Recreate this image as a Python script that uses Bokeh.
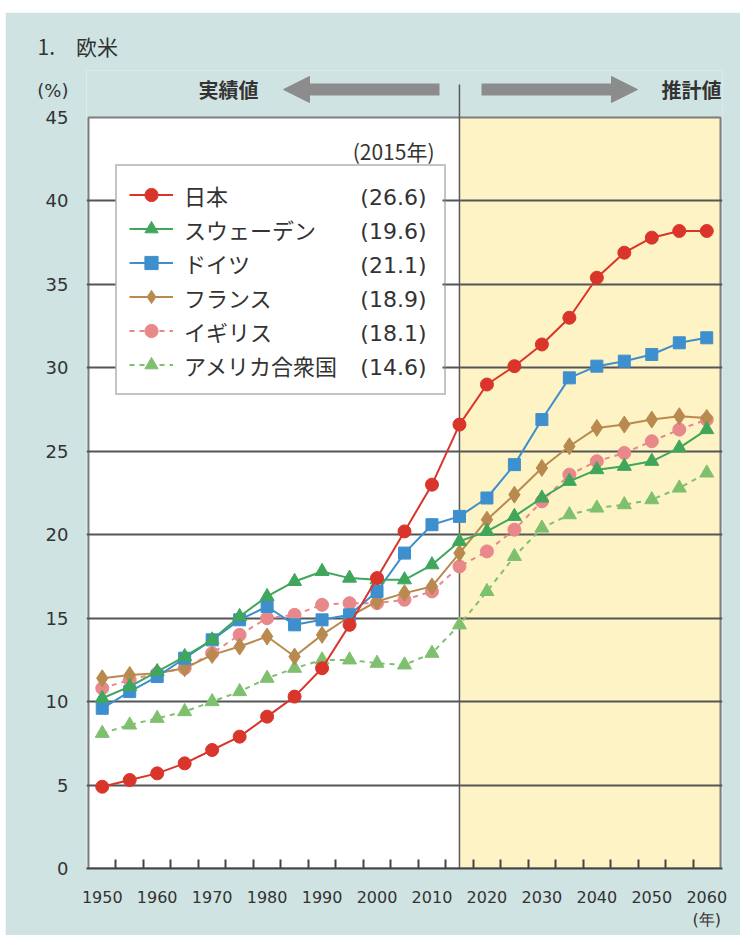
from bokeh.plotting import figure
from bokeh.models import (FixedTicker, Legend, LegendItem, Label, Arrow, NormalHead,
                          Range1d, Spacer)
from bokeh.layouts import column, row
from bokeh.core.properties import value
from bokeh.embed import file_html
from bokeh.resources import INLINE

# ---------------- data ----------------
years = list(range(1950, 2061, 5))
split_year = 2015  # 実績値 / 推計値 boundary

series_names = ["日本", "スウェーデン", "ドイツ", "フランス", "イギリス", "アメリカ合衆国"]

japan = [4.9, 5.3, 5.7, 6.3, 7.1, 7.9, 9.1, 10.3, 12.0, 14.6, 17.4, 20.2, 23.0,
         26.6, 29.0, 30.1, 31.4, 33.0, 35.4, 36.9, 37.8, 38.2, 38.2]
sweden = [10.2, 10.9, 11.8, 12.7, 13.7, 15.1, 16.3, 17.2, 17.8, 17.4, 17.3, 17.3, 18.2,
          19.6, 20.2, 21.1, 22.2, 23.2, 23.9, 24.1, 24.4, 25.2, 26.3]
germany = [9.6, 10.6, 11.5, 12.6, 13.7, 14.9, 15.7, 14.6, 14.9, 15.2, 16.6, 18.9, 20.6,
           21.1, 22.2, 24.2, 26.9, 29.4, 30.1, 30.4, 30.8, 31.5, 31.8]
france = [11.4, 11.6, 11.7, 12.0, 12.8, 13.3, 13.9, 12.7, 14.0, 15.1, 16.0, 16.5, 16.9,
          18.9, 20.9, 22.4, 24.0, 25.3, 26.4, 26.6, 26.9, 27.1, 27.0]
uk = [10.8, 11.3, 11.7, 12.0, 12.9, 14.0, 15.0, 15.2, 15.8, 15.9, 15.9, 16.1, 16.6,
      18.1, 19.0, 20.3, 22.0, 23.6, 24.4, 24.9, 25.6, 26.3, 26.9]
us = [8.1, 8.6, 9.0, 9.4, 10.0, 10.6, 11.4, 12.0, 12.5, 12.5, 12.3, 12.2, 12.9,
      14.6, 16.6, 18.7, 20.4, 21.2, 21.6, 21.8, 22.1, 22.8, 23.7]

y_ticks = list(range(0, 46, 5))
x_label_years = years[::2]
unit_y, unit_x = "(%)", "(年)"

# ---------------- styling ----------------
TEAL = "#cfe4e2"
YELLOW = "#fdf3c4"
GRID = "#555555"
TXT = "#333333"
ARROW = "#8c8c8c"

styles = [
    # (values, color, marker, size, dash)
    (japan, "#d9352b", "circle", 13, "solid"),
    (sweden, "#3fa65c", "triangle", 14, "solid"),
    (germany, "#3e8fcd", "square", 12, "solid"),
    (france, "#b98a4f", "diamond", 17, "solid"),
    (uk, "#e8888a", "circle", 13, "5 5"),
    (us, "#7fc06e", "triangle", 14, "5 5"),
]

XA, XB = 1947.5, 2062.5      # data extent of the drawn plot box
YA, YB = 0, 45
# plot box position in the 740x935 page
BL, BR, BT, BB = 88, 720, 117, 868
PAGE_LEFT, PAGE_TOP = 5, 12
FRAME_L, FRAME_R, FRAME_T = 86, 722, 70   # frame a bit larger than the plot box


def rx(x):
    return XA + (x - BL) * (XB - XA) / (BR - BL)


def ry(y):
    return YA + (BB - y) * (YB - YA) / (BB - BT)


W = 740 - PAGE_LEFT
H = 935 - PAGE_TOP

p = figure(width=W, height=H, x_range=Range1d(rx(FRAME_L), rx(FRAME_R)),
           y_range=Range1d(YA, ry(FRAME_T)),
           output_backend="svg", toolbar_location=None, title="1.\u3000欧米",
           min_border_left=FRAME_L - PAGE_LEFT, min_border_right=740 - FRAME_R,
           min_border_top=FRAME_T - PAGE_TOP, min_border_bottom=935 - BB)
p.background_fill_color = TEAL
p.border_fill_color = TEAL
p.outline_line_color = None

p.title.align = "left"
p.title.offset = 37 - FRAME_L
p.title.standoff = 19
p.title.text_font = "Noto Sans CJK JP"
p.title.text_font_size = "21px"
p.title.text_font_style = "normal"
p.title.text_color = TXT

# plot box backgrounds: actual (white) and projection (yellow)
p.quad(left=[XA], right=[split_year], bottom=[YA], top=[YB],
       fill_color="white", line_color=None, level="image")
p.quad(left=[split_year], right=[XB], bottom=[YA], top=[YB],
       fill_color=YELLOW, line_color=None, level="image")

# grid
p.xgrid.visible = False
p.ygrid.ticker = FixedTicker(ticks=y_ticks[1:-1])
p.ygrid.grid_line_color = GRID
p.ygrid.grid_line_width = 2

# plot box border
p.quad(left=[XA], right=[XB], bottom=[YA], top=[YB], fill_color=None,
       line_color="#7d7d7d", line_width=2, level="underlay")

# boundary line (extends above the box up to the arrows)
p.segment(x0=[split_year], y0=[YA], x1=[split_year], y1=[ry(84)],
          line_color="#5a5a5a", line_width=1.5, level="underlay")

# y axis
unit_tick = 46.6
p.yaxis.ticker = FixedTicker(ticks=y_ticks + [unit_tick])
p.yaxis.major_label_overrides = {unit_tick: unit_y}
p.yaxis.axis_line_color = None
p.yaxis.major_tick_line_color = None
p.yaxis.minor_tick_line_color = None
p.yaxis.major_tick_in = 0
p.yaxis.major_tick_out = 0
p.yaxis.major_label_standoff = 18
p.yaxis.major_label_text_font = "DejaVu Sans"
p.yaxis.major_label_text_font_size = "18px"
p.yaxis.major_label_text_color = TXT

# x axis
p.xaxis.ticker = FixedTicker(ticks=x_label_years,
                             minor_ticks=[y + 2.5 for y in years[:-1]])
p.xaxis.major_label_overrides = {years[-1]: f"{years[-1]}\n{unit_x}"}
p.xaxis.axis_line_color = "#444444"
p.xaxis.axis_line_width = 2
p.xaxis.major_tick_line_color = None
p.xaxis.major_tick_in = 0
p.xaxis.major_tick_out = 0
p.xaxis.minor_tick_line_color = "#444444"
p.xaxis.minor_tick_line_width = 2
p.xaxis.minor_tick_in = 9
p.xaxis.minor_tick_out = 0
p.xaxis.major_label_standoff = 19
p.xaxis.major_label_text_font = "DejaVu Sans"
p.xaxis.major_label_text_font_size = "16px"
p.xaxis.major_label_text_color = TXT

# series (draw Japan last so it sits on top)
renderers = {}
for name, (vals, col, mk, sz, dash) in reversed(list(zip(series_names, styles))):
    lr = p.line(years, vals, line_color=col, line_width=2, line_dash=dash)
    sr = p.scatter(years, vals, marker=mk, size=sz, fill_color=col, line_color=col)
    renderers[name] = (lr, sr)

# legend geometry (page pixels)
PAD, GH, SP = 12, 33, 1
GW, STANDOFF, LW = 44, 11, 248
LEG_L, LEG_B = 115, 395
LEG_R = LEG_L + 2 * PAD + GW + STANDOFF + LW
legend_top = LEG_B - (2 * PAD + len(series_names) * GH + (len(series_names) - 1) * SP)

# white legend box drawn as a glyph so that the 2015 values can sit on it
p.quad(left=[rx(LEG_L)], right=[rx(LEG_R)], bottom=[ry(LEG_B)], top=[ry(legend_top)],
       fill_color="white", line_color=None)

idx2015 = years.index(split_year)
val_y = [ry(legend_top + PAD + GH / 2 + i * (GH + SP)) for i in range(len(styles))]
val_txt = [f"({s[0][idx2015]:.1f})" for s in styles]
p.text(x=[rx(426)] * len(styles), y=val_y, text=val_txt, text_align="right",
       text_baseline="middle", text_font=value("DejaVu Sans"), text_font_size="22px",
       text_color=TXT)

legend = Legend(items=[LegendItem(label=n, renderers=list(renderers[n])) for n in series_names],
                location=(LEG_L - FRAME_L, BB - LEG_B), orientation="vertical",
                padding=PAD, spacing=SP, glyph_width=GW, glyph_height=GH,
                label_height=22, label_width=LW, label_standoff=STANDOFF, margin=0,
                label_text_font="Noto Sans CJK JP", label_text_font_size="22px",
                label_text_color=TXT, border_line_color="#8a8a8a", border_line_width=2,
                background_fill_alpha=0.0)
p.add_layout(legend, "center")

p.add_layout(Label(x=rx(434), y=ry(150), text=f"({split_year}年)", text_align="right",
                   text_baseline="middle", text_font="Noto Sans CJK JP",
                   text_font_size="21px", text_color=TXT))

# header texts and arrows
p.add_layout(Label(x=rx(228), y=ry(89), text="実績値", text_align="center",
                   text_baseline="middle", text_font="Noto Sans CJK JP",
                   text_font_size="20px", text_font_style="bold", text_color=TXT))
p.add_layout(Label(x=rx(691), y=ry(89), text="推計値", text_align="center",
                   text_baseline="middle", text_font="Noto Sans CJK JP",
                   text_font_size="20px", text_font_style="bold", text_color=TXT))
p.add_layout(Arrow(x_start=rx(439), y_start=ry(89), x_end=rx(283), y_end=ry(89),
                   start=None, end=NormalHead(size=26, fill_color=ARROW, line_color=ARROW),
                   line_color=ARROW, line_width=12))
p.add_layout(Arrow(x_start=rx(481), y_start=ry(89), x_end=rx(637), y_end=ry(89),
                   start=None, end=NormalHead(size=26, fill_color=ARROW, line_color=ARROW),
                   line_color=ARROW, line_width=12))

layout = column(Spacer(width=740, height=PAGE_TOP),
                row(Spacer(width=PAGE_LEFT, height=H), p))

open("out.html", "w").write(file_html(layout, INLINE))
